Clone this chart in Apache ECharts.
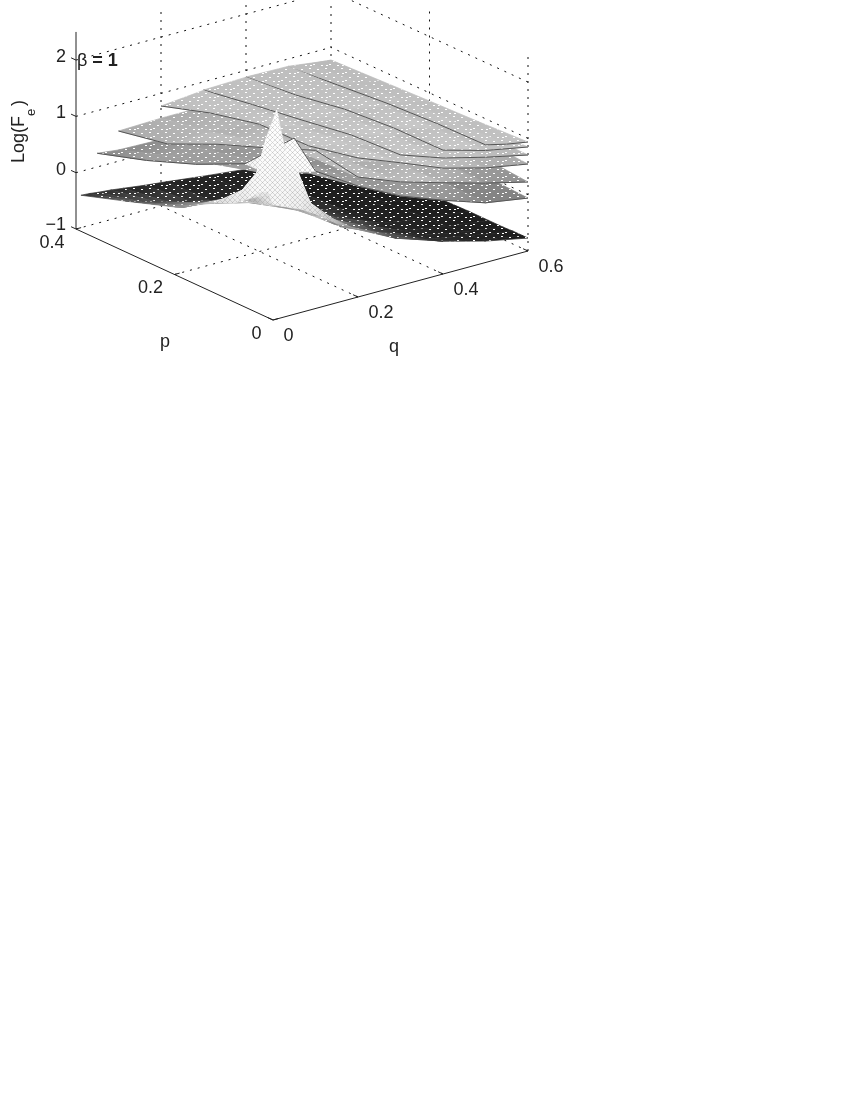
<!DOCTYPE html>
<html>
<head>
<meta charset="utf-8">
<title>Log(Fe) surfaces</title>
<script src="https://cdn.jsdelivr.net/npm/echarts@6/dist/echarts.min.js"></script>
<style>
    html, body { margin: 0; background: #fff; }
    #main { width: 850px; height: 1100px; }
</style>
</head>
<body>
<div id="main"></div>
<script>
// ticks of the 3d box
const qTicks = [0, 0.2, 0.4, 0.6];
const pTicks = [0, 0.2, 0.4];
const zTicks = [-1, 0, 1, 2];
const zTop = 2.5;

// nodes, rows go with p and columns with q
const pRows = [0, 0.1, 0.2, 0.3, 0.4];

const qA = [0.5, 0.55, 0.6];
const zA = [
    [1.09, 1.0, 0.936],
    [1.07, 0.97, 0.89],
    [1.02, 0.93, 0.856],
    [0.94, 0.87, 0.816],
    [0.856, 0.81, 0.776]
];
const qB = [0.4, 0.5, 0.6];
const zB = [
    [1.2, 0.99, 0.847],
    [1.19, 0.97, 0.84],
    [1.12, 0.95, 0.82],
    [0.97, 0.91, 0.8],
    [0.883, 0.87, 0.77]
];
const qC = [0.3, 0.4, 0.5, 0.6];
const zC = [
    [1.32, 1.06, 0.87, 0.705],
    [1.27, 1.05, 0.86, 0.72],
    [1.13, 1.0, 0.85, 0.74],
    [1.0, 0.95, 0.84, 0.75],
    [0.856, 0.88, 0.84, 0.76]
];
const qD = [0.2, 0.3, 0.4, 0.5, 0.6];
const zD = [
    [1.47, 1.18, 0.88, 0.68, 0.545],
    [1.28, 1.1, 0.87, 0.72, 0.6],
    [1.26, 1.0, 0.85, 0.76, 0.66],
    [1.056, 0.93, 0.84, 0.79, 0.72],
    [0.776, 0.85, 0.84, 0.81, 0.76]
];
const qE = [0.1, 0.2, 0.3, 0.4, 0.5, 0.6];
const zE = [
    [1.81, 1.13, 0.84, 0.62, 0.41, 0.226],
    [1.45, 1.11, 0.78, 0.6, 0.44, 0.3],
    [1.11, 0.95, 0.7, 0.58, 0.48, 0.38],
    [0.71, 0.72, 0.64, 0.56, 0.5, 0.46],
    [0.536, 0.56, 0.56, 0.55, 0.53, 0.52]
];
const qF = [0.05, 0.1, 0.2, 0.3, 0.4, 0.5, 0.6];
const zF = [
    [2.13, 1.44, 0.97, 0.59, 0.31, 0.06, -0.06],
    [1.27, 1.0, 0.8, 0.5, 0.3, 0.08, -0.02],
    [0.856, 0.75, 0.6, 0.4, 0.22, 0.08, 0.02],
    [0.52, 0.5, 0.38, 0.3, 0.18, 0.08, 0.04],
    [0.243, 0.2, 0.18, 0.15, 0.12, 0.08, 0.06]
];
// bottom sheet has the peak so it needs a tighter mesh near the corner
const qG = [0, 0.02, 0.04, 0.07, 0.1, 0.15, 0.2, 0.3, 0.4, 0.5, 0.6];
const pG = [0, 0.01, 0.03, 0.05, 0.08, 0.12, 0.2, 0.3, 0.39];
const zG = [
    [1.05, 0.98, 0.92, 0.82, 0.68, 0.41, 0.21, -0.14, -0.42, -0.62, -0.77],
    [1.25, 2.64, 1.9, 1.45, 0.83, 0.46, 0.18, -0.2, -0.45, -0.63, -0.77],
    [1.15, 2.09, 1.75, 1.2, 0.8, 0.42, 0.12, -0.2, -0.5, -0.64, -0.77],
    [0.95, 1.38, 1.35, 0.95, 0.7, 0.35, 0.1, -0.25, -0.52, -0.66, -0.78],
    [0.75, 0.94, 0.95, 0.75, 0.55, 0.32, 0.1, -0.25, -0.55, -0.68, -0.78],
    [0.59, 0.62, 0.6, 0.5, 0.4, 0.22, 0.1, -0.3, -0.58, -0.7, -0.78],
    [0.2, 0.15, 0.14, 0.12, 0.06, 0, -0.08, -0.45, -0.68, -0.75, -0.8],
    [-0.1, -0.15, -0.2, -0.25, -0.32, -0.4, -0.5, -0.6, -0.72, -0.78, -0.82],
    [-0.36, -0.37, -0.39, -0.41, -0.44, -0.49, -0.53, -0.62, -0.7, -0.8, -0.85]
];

// lowest sheet first
const sheets = [
    { q: qG, p: pG, z: zG, edge: false },
    { q: qF, p: pRows, z: zF, edge: true },
    { q: qE, p: pRows, z: zE, edge: true },
    { q: qD, p: pRows, z: zD, edge: true },
    { q: qC, p: pRows, z: zC, edge: true },
    { q: qB, p: pRows, z: zB, edge: true },
    { q: qA, p: pRows, z: zA, edge: true }
];

// orthographic view of the box, in the hidden axes units
function view(q, p, z) {
    return [
        273 + 425 * q - 492.5 * p,
        320 - 115 * q - 227.5 * p - 56.3 * (z + 1)
    ];
}

// height to gray. The upper sheets stay flat, only the peak sheet goes white
const peakStops = [[-0.85, 0.1], [-0.5, 0.16], [-0.2, 0.3], [0, 0.45], [0.3, 0.66], [0.6, 0.86], [0.9, 0.96], [1.5, 1]];
const sheetStops = [[-0.1, 0.5], [0.2, 0.56], [0.5, 0.66], [0.8, 0.74], [1.2, 0.78], [2.7, 0.8]];
const sheetGrayCap = [1, 0.62, 0.74, 0.78, 0.78, 0.78, 0.78];
function lookup(s, z) {
    if (z <= s[0][0]) return s[0][1];
    for (let i = 1; i < s.length; i++) {
        if (z <= s[i][0]) {
            let t = (z - s[i - 1][0]) / (s[i][0] - s[i - 1][0]);
            return s[i - 1][1] + t * (s[i][1] - s[i - 1][1]);
        }
    }
    return s[s.length - 1][1];
}
function colorOf(z, k, isPeak) {
    let v = (k === 0 || isPeak) ? lookup(peakStops, z) : Math.min(lookup(sheetStops, z), sheetGrayCap[k]);
    let g = Math.round(v * 255);
    return `rgb(${g},${g},${g})`;
}

// white speckle left by the dense mesh
function speckleTile() {
    let c = document.createElement('canvas');
    c.width = 16;
    c.height = 8;
    let ctx = c.getContext('2d');
    ctx.fillStyle = '#ffffff';
    [[1, 1], [9, 0], [5, 4], [13, 5], [6, 1]].forEach(d => ctx.fillRect(d[0], d[1], 2, 1));
    return c;
}
// gray crosshatch on the white peak
function hatchTile() {
    let c = document.createElement('canvas');
    c.width = 5;
    c.height = 5;
    let ctx = c.getContext('2d');
    ctx.strokeStyle = 'rgba(130,130,130,0.4)';
    ctx.lineWidth = 0.7;
    ctx.beginPath();
    ctx.moveTo(0, 0);
    ctx.lineTo(5, 5);
    ctx.moveTo(5, 0);
    ctx.lineTo(0, 5);
    ctx.stroke();
    return c;
}
const specklePattern = { image: speckleTile(), repeat: 'repeat' };
const hatchPattern = { image: hatchTile(), repeat: 'repeat' };

// painter order: far q band first, inside a band lower sheet first
const qBands = [0.05, 0.1, 0.2, 0.3, 0.4, 0.5];
function bandOf(q) {
    let b = 0;
    qBands.forEach(v => { if (q >= v) b++; });
    return b;
}
let cells = [];
sheets.forEach((s, k) => {
    for (let i = 0; i < s.p.length - 1; i++) {
        for (let j = 0; j < s.q.length - 1; j++) {
            cells.push([k, i, j]);
        }
    }
});
cells.sort((a, b) => {
    let ba = bandOf(sheets[a[0]].q[a[2]]), bb = bandOf(sheets[b[0]].q[b[2]]);
    if (ba !== bb) return bb - ba;
    if (a[0] !== b[0]) return a[0] - b[0];
    if (a[1] !== b[1]) return b[1] - a[1];
    return b[2] - a[2];
});

function renderCell(params, api) {
    let k = api.value(0), i = api.value(1), j = api.value(2);
    let s = sheets[k];
    let corners = [[i, j], [i, j + 1], [i + 1, j + 1], [i + 1, j]].map(c => ({
        z: s.z[c[0]][c[1]],
        pt: api.coord(view(s.q[c[1]], s.p[c[0]], s.z[c[0]][c[1]]))
    }));
    let pts = corners.map(c => c.pt);
    let lo = corners.reduce((a, b) => (b.z < a.z ? b : a));
    let hi = corners.reduce((a, b) => (b.z > a.z ? b : a));
    let isPeak = (k === 0 && s.q[j] < 0.15 && s.p[i] < 0.12) || (k === 1 && j === 0 && i === 0);
    let fill = new echarts.graphic.LinearGradient(lo.pt[0], lo.pt[1], hi.pt[0] + 0.01, hi.pt[1] + 0.01, [
        { offset: 0, color: colorOf(lo.z, k, isPeak) },
        { offset: 1, color: colorOf(hi.z, k, isPeak) }
    ], true);
    let ridge = k === 0 && i === 1 && j === 1;
    let children = [
        { type: 'polygon', shape: { points: pts }, style: { fill: fill, stroke: fill, lineWidth: 0.7 } },
        {
            type: 'polygon',
            shape: { points: pts },
            style: {
                fill: isPeak ? hatchPattern : specklePattern,
                stroke: ridge ? '#888' : null,
                lineWidth: 0.6
            }
        }
    ];
    if (s.edge && j === 0) {
        children.push({
            type: 'line',
            shape: { x1: pts[0][0], y1: pts[0][1], x2: pts[3][0], y2: pts[3][1] },
            style: { stroke: '#555', lineWidth: 1 }
        });
    }
    if (s.edge && i === 0) {
        children.push({
            type: 'line',
            shape: { x1: pts[0][0], y1: pts[0][1], x2: pts[1][0], y2: pts[1][1] },
            style: { stroke: '#555', lineWidth: 1 }
        });
    }
    return { type: 'group', children: children };
}

// box lines: from, to and a kind
let boxLines = [];
qTicks.forEach(q => {
    if (q > 0) boxLines.push([q, 0, -1, q, 0.4, -1, 'grid']);
    if (q > 0) boxLines.push([q, 0.4, -1, q, 0.4, zTop, 'grid']);
});
pTicks.forEach(p => {
    if (p > 0) boxLines.push([0, p, -1, 0.6, p, -1, 'grid']);
    if (p < 0.4) boxLines.push([0.6, p, -1, 0.6, p, zTop, 'grid']);
});
zTicks.forEach(z => {
    if (z > -1) boxLines.push([0, 0.4, z, 0.6, 0.4, z, 'grid']);
    if (z > -1) boxLines.push([0.6, 0, z, 0.6, 0.4, z, 'grid']);
    boxLines.push([0, 0.4, z, 0, 0.41, z, 'axis']);
});
qTicks.forEach(q => boxLines.push([q, 0, -1, q, 0.01, -1, 'axis']));
pTicks.forEach(p => boxLines.push([0, p, -1, 0.012, p, -1, 'axis']));
boxLines.push([0, 0, -1, 0.6, 0, -1, 'axis']);
boxLines.push([0, 0, -1, 0, 0.4, -1, 'axis']);
boxLines.push([0, 0.4, -1, 0, 0.4, zTop, 'axis']);

function renderBoxLine(params, api) {
    let d = boxLines[params.dataIndex];
    let a = api.coord(view(d[0], d[1], d[2]));
    let b = api.coord(view(d[3], d[4], d[5]));
    let isGrid = d[6] === 'grid';
    return {
        type: 'line',
        shape: { x1: a[0], y1: a[1], x2: b[0], y2: b[1] },
        style: {
            stroke: isGrid ? '#111' : '#222',
            lineWidth: 1,
            lineDash: isGrid ? [2, 6] : null
        }
    };
}

// tick labels, each with its nudge away from the tick
let tickLabels = [];
zTicks.forEach(z => tickLabels.push([0, 0.4, z, String(z).replace('-', '\u2212'), -10, z === -1 ? -4 : -3, 'right']));
pTicks.forEach(p => tickLabels.push([0, p, -1, String(p), -11.5, 14, 'right']));
qTicks.forEach(q => tickLabels.push([q, 0, -1, String(q), 10.5, 16, 'left']));

function renderTickLabel(params, api) {
    let d = tickLabels[params.dataIndex];
    let a = api.coord(view(d[0], d[1], d[2]));
    return {
        type: 'text',
        x: a[0] + d[4],
        y: a[1] + d[5],
        style: {
            text: d[3],
            fill: '#222',
            font: '18px "Liberation Sans", Arial, sans-serif',
            align: d[6],
            verticalAlign: 'middle'
        }
    };
}

const chart = echarts.init(document.getElementById('main'));
const titleFont = '18px "Liberation Sans", Arial, sans-serif';

chart.setOption({
    animation: false,
    backgroundColor: '#ffffff',
    grid: { left: 0, right: 0, top: 0, bottom: 0 },
    xAxis: { type: 'value', min: 0, max: 850, show: false },
    yAxis: { type: 'value', min: 0, max: 1100, inverse: true, show: false },
    graphic: [
        { type: 'text', x: 165, y: 342, silent: true, style: { text: 'p', font: titleFont, fill: '#222', align: 'center', verticalAlign: 'middle' } },
        { type: 'text', x: 394, y: 347, silent: true, style: { text: 'q', font: titleFont, fill: '#222', align: 'center', verticalAlign: 'middle' } },
        { type: 'text', x: 19, y: 163, rotation: Math.PI / 2, silent: true, style: { text: 'Log(F', font: titleFont, fill: '#222', align: 'left', verticalAlign: 'middle' } },
        { type: 'text', x: 31, y: 116, rotation: Math.PI / 2, silent: true, style: { text: 'e', font: '13px "Liberation Sans", Arial, sans-serif', fill: '#222', align: 'left', verticalAlign: 'middle' } },
        { type: 'text', x: 19, y: 106, rotation: Math.PI / 2, silent: true, style: { text: ')', font: titleFont, fill: '#222', align: 'left', verticalAlign: 'middle' } },
        {
            type: 'text', x: 77, y: 61, silent: true,
            style: {
                text: '{a|\u03b2}{b| = 1}',
                align: 'left',
                verticalAlign: 'middle',
                rich: {
                    a: { font: '18px "Liberation Sans", Arial, sans-serif', fill: '#222' },
                    b: { font: 'bold 18px "Liberation Sans", Arial, sans-serif', fill: '#222' }
                }
            }
        }
    ],
    series: [
        {
            type: 'custom',
            coordinateSystem: 'cartesian2d',
            silent: true,
            clip: false,
            z: 1,
            data: boxLines.map((d, i) => [i]),
            encode: { x: 0, y: 0 },
            renderItem: renderBoxLine
        },
        {
            type: 'custom',
            coordinateSystem: 'cartesian2d',
            silent: true,
            clip: false,
            z: 2,
            data: cells,
            encode: { x: -1, y: -1 },
            renderItem: renderCell
        },
        {
            type: 'custom',
            coordinateSystem: 'cartesian2d',
            silent: true,
            clip: false,
            z: 3,
            data: tickLabels.map((d, i) => [i]),
            encode: { x: 0, y: 0 },
            renderItem: renderTickLabel
        }
    ]
});
</script>
</body>
</html>
